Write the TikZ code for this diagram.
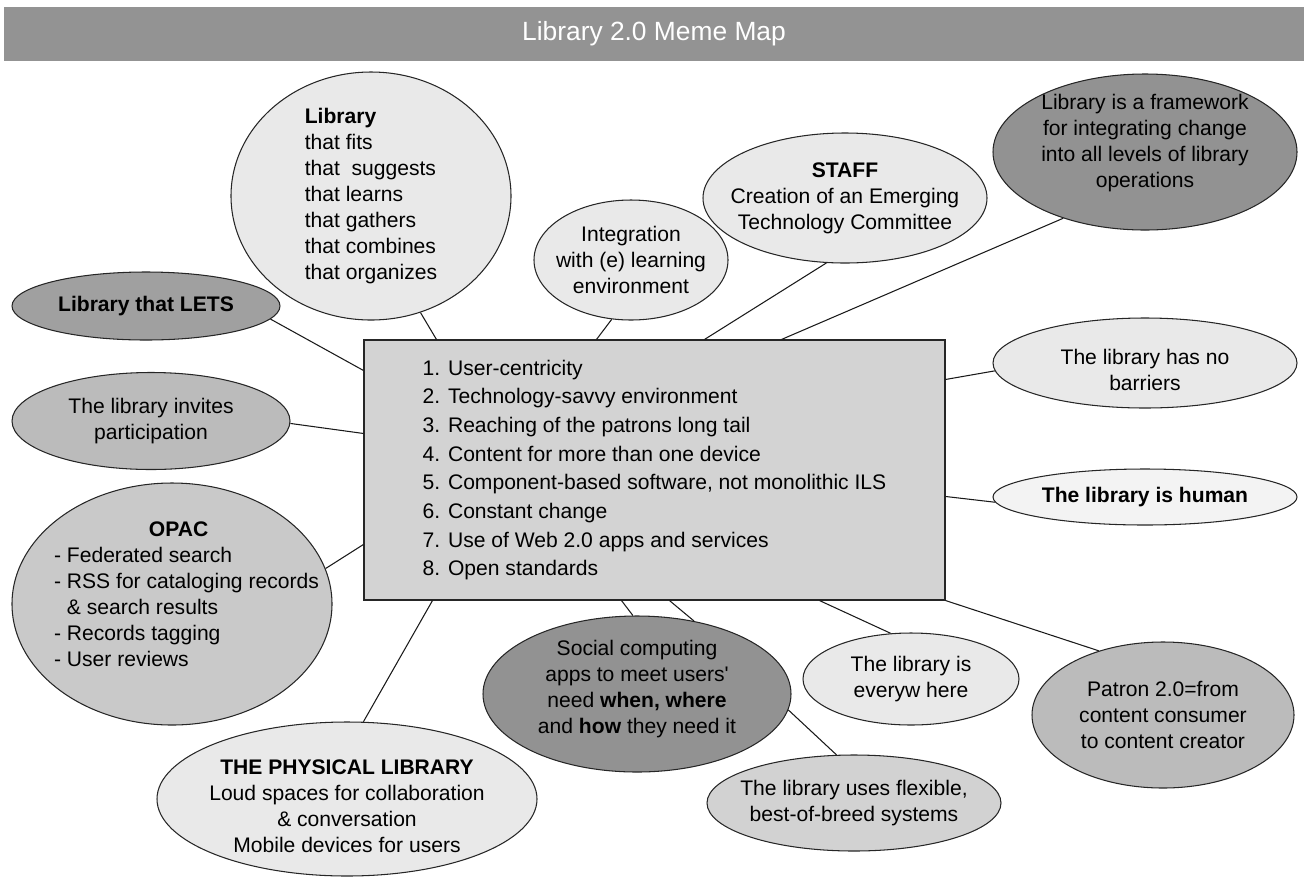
\documentclass[tikz,border=0pt]{standalone}
\usepackage{fontspec}
\setmainfont{Liberation Sans}
\usetikzlibrary{shapes.geometric,calc}

\definecolor{titlegray}{HTML}{939393}
\definecolor{boxgray}{HTML}{D3D3D3}
\definecolor{palefill}{HTML}{F3F3F3}
\definecolor{lightfill}{HTML}{E9E9E9}
\definecolor{softfill}{HTML}{D2D2D2}
\definecolor{midfill}{HTML}{C9C9C9}
\definecolor{deepfill}{HTML}{BBBBBB}
\definecolor{letsfill}{HTML}{A0A0A0}
\definecolor{darkfill}{HTML}{929292}

\begin{document}
\begin{tikzpicture}[x=0.02cm,y=-0.02cm,
  dims/.style 2 args={minimum width=#1*0.02cm,minimum height=#2*0.02cm},
  titlebar/.style={fill=titlegray,text=white,inner sep=0pt,font=\fontsize{15}{18}\selectfont},
  corebox/.style={draw=black!85,fill=boxgray,line width=0.6pt,inner sep=0pt,align=left,font=\fontsize{12}{16.3}\selectfont},
  bubble/.style={ellipse,draw=black!85,line width=0.6pt,inner sep=0pt},
  blurb/.style={font=\fontsize{12}{14.8}\selectfont,align=center,inner sep=0pt},
  link/.style={draw=black!90,line width=0.6pt}]
\useasboundingbox (0,0) rectangle (1306,877);
% Title
\node[titlebar,dims={1300}{54}] (title) at (654,34) {Library 2.0 Meme Map};
% Core list
\node[corebox,dims={581}{260}] (core) at (654.5,470) {1. User-centricity\\
  2. Technology-savvy environment\\
  3. Reaching of the patrons long tail\\
  4. Content for more than one device\\
  5. Component-based software, not monolithic ILS\\
  6. Constant change\\
  7. Use of Web 2.0 apps and services\\
  8. Open standards};
% Left side
\node[bubble,fill=lightfill,dims={280}{248},
  label={[blurb,align=left]center:{\textbf{Library}\\that fits\\that~~suggests\\that learns\\that gathers\\that combines\\that organizes}}] (lib) at (371,196) {};
\node[bubble,fill=letsfill,dims={268}{68},
  label={[blurb]center:{\textbf{Library that LETS}}}] (lets) at (146,306) {};
\node[bubble,fill=deepfill,dims={278}{97},
  label={[blurb]center:{The library invites\\participation}}] (invite) at (151,421) {};
\node[bubble,fill=midfill,dims={320}{242},
  label={[blurb,align=left,xshift=0.29cm,yshift=0.2cm]center:{\hspace*{54pt}\textbf{OPAC}\\- Federated search\\- RSS for cataloging records\\\hphantom{-\ }\& search results\\- Records tagging\\- User reviews}}] (opac) at (172,604) {};
% Top
\node[bubble,fill=lightfill,dims={194}{120},
  label={[blurb]center:{Integration\\with (e) learning\\environment}}] (elearn) at (631,260) {};
\node[bubble,fill=lightfill,dims={284}{130},
  label={[blurb]center:{\textbf{STAFF}\\Creation of an Emerging\\Technology Committee}}] (staff) at (845,198) {};
\node[bubble,fill=darkfill,dims={304}{156},
  label={[blurb,yshift=0.18cm]center:{Library is a framework\\for integrating change\\into all levels of library\\operations}}] (frame) at (1145,152) {};
% Right side
\node[bubble,fill=lightfill,dims={304}{90},
  label={[blurb,yshift=-0.14cm]center:{The library has no\\barriers}}] (barrier) at (1145,363) {};
\node[bubble,fill=palefill,dims={304}{56},
  label={[blurb]center:{\textbf{The library is human}}}] (human) at (1145,497) {};
\node[bubble,fill=deepfill,dims={262}{146},
  label={[blurb]center:{Patron 2.0=from\\content consumer\\to content creator}}] (patron) at (1163,715) {};
% Bottom
\node[bubble,fill=lightfill,dims={216}{92},
  label={[blurb]center:{The library is\\everyw here}}] (every) at (911,679) {};
\node[bubble,fill=darkfill,dims={308}{156},
  label={[blurb,yshift=0.1cm]center:{Social computing\\apps to meet users\textquotesingle\\need \textbf{when, where}\\and \textbf{how} they need it}}] (social) at (637,694) {};
\node[bubble,fill=softfill,dims={294}{96},
  label={[blurb]center:{The library uses flexible,\\best-of-breed systems}}] (flex) at (854,803) {};
\node[bubble,fill=lightfill,dims={380}{154},
  label={[blurb,yshift=-0.14cm]center:{\textbf{THE PHYSICAL LIBRARY}\\Loud spaces for collaboration\\\& conversation\\Mobile devices for users}}] (phys) at (347,799) {};
% Links
\draw[link] (lib.293) -- ($(core.north west)+(73,0)$);
\draw[link] (lets.354) -- ($(core.north west)+(0,31)$);
\draw[link] (invite.359) -- ($(core.north west)+(0,94)$);
\draw[link] (opac.13) -- ($(core.north west)+(0,205)$);
\draw[link] (elearn.252) -- ($(core.north west)+(233,0)$);
\draw[link] (staff.254) -- ($(core.north west)+(341,0)$);
\draw[link] (frame.219) -- ($(core.north west)+(418,0)$);
\draw[link] (barrier.183) -- ($(core.north east)+(0,40)$);
\draw[link] (human.182) -- ($(core.north east)+(0,157)$);
\draw[link] (patron.135) -- (core.south east);
\draw[link] (every.114) -- ($(core.south west)+(456,0)$);
\draw[link] (social.93) -- ($(core.south west)+(258,0)$);
\draw[link] (social.52) -- ($(core.south west)+(306,0)$);
\draw[link] (flex.110) -- (social.354);
\draw[link] (phys.78) -- ($(core.south west)+(69,0)$);
\end{tikzpicture}
\end{document}
